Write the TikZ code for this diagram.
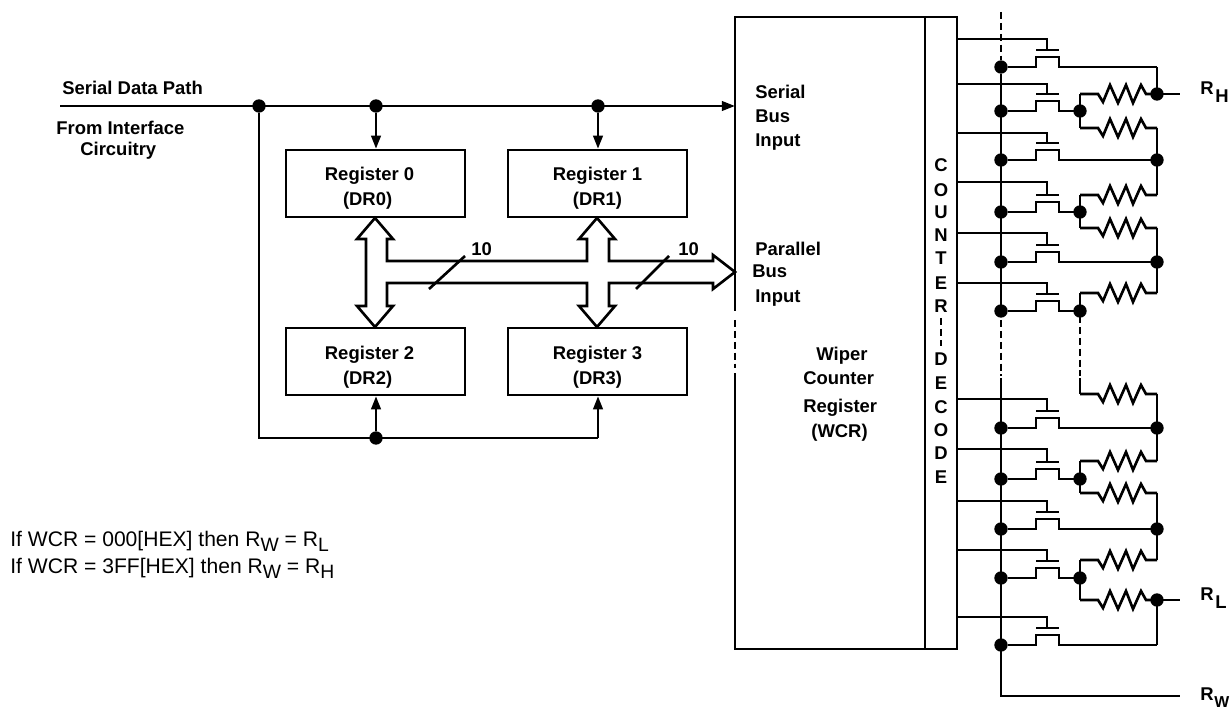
\documentclass[tikz,border=0pt]{standalone}
\usepackage{fontspec}
\setmainfont{Liberation Sans}
\usepackage{tikz}
\usetikzlibrary{arrows.meta}
\newcommand{\lowsub}[1]{\raisebox{-3pt}{\fontsize{11}{12}\selectfont #1}}
\tikzset{
  wire/.style={line width=1.5pt},
  dashwire/.style={line width=1.5pt,dash pattern=on 4pt off 2.2pt},
  regbox/.style={draw,line width=1.5pt,minimum width=102pt,minimum height=38pt,align=center,inner sep=0pt,font=\bfseries\fontsize{10.5}{14.2}\selectfont},
  lbl/.style={inner sep=0pt,anchor=west,font=\bfseries\fontsize{10.5}{12}\selectfont},
  note/.style={inner sep=0pt,anchor=west,font=\fontsize{12}{14}\selectfont},
  dot/.style={circle,fill,inner sep=0pt,minimum size=7.6pt},
  tip/.style={-{Triangle[length=7.5pt,width=5.4pt]}},
}
\begin{document}
\begin{tikzpicture}[x=0.02cm,y=-0.02cm]
       \useasboundingbox(0,0)rectangle(1230,709);
       % registers
       \node[regbox](R0)at(375.5,183.5){\rule{0pt}{13.5pt}Register 0\hspace*{6.8pt}\\(DR0)\hspace*{9pt}};
       \node[regbox](R1)at(597.5,183.5){\rule{0pt}{13.5pt}Register 1\\(DR1)};
       \node[regbox](R2)at(375.5,361.5){\rule{0pt}{14.5pt}Register 2\hspace*{6.8pt}\\(DR2)\hspace*{9pt}};
       \node[regbox](R3)at(597.5,361.5){\rule{0pt}{14.5pt}Register 3\\(DR3)};
       % serial path
       \coordinate(SS)at(60,106);
       \coordinate(SE)at(735,106);
       \node[dot](J0)at(259,106){};
       \node[dot](J1)at(376,106){};
       \node[dot](J2)at(598,106){};
       \node[dot](J3)at(376,438){};
       \coordinate(J4)at(259,438);
       \coordinate(J5)at(598,438);
       \draw[wire,tip](SS)--(SE);
       \draw[wire,tip](J1)--(J1|-R0.north);
       \draw[wire,tip](J2)--(J2|-R1.north);
       \draw[wire](J0)--(J4)--(J5);
       \draw[wire,tip](J3)--(J3|-R2.south);
       \draw[wire,tip](J5)--(J5|-R3.south);
       % parallel bus
       \draw[wire,line join=miter](375,218)--(393,239)--(387,239)--(387,261)--(587,261)--(587,239)--(579,239)
         --(597,218)--(615,239)--(609,239)--(609,261)--(713,261)--(713,255)--(735,272)--(713,289)--(713,283)
         --(609,283)--(609,306)--(615,306)--(597,327)--(579,306)--(587,306)--(587,283)--(387,283)--(387,306)
         --(393,306)--(375,327)--(357,306)--(366,306)--(366,239)--(357,239)--cycle;
       \coordinate(B0)at(429,289);
       \coordinate(B1)at(465,256);
       \coordinate(B2)at(636,289);
       \coordinate(B3)at(669,256);
       \draw[wire](B0)--(B1);
       \draw[wire](B2)--(B3);
       \node[lbl]at(471,249){10};
       \node[lbl]at(678,249){10};
       % counter box
       \coordinate(W0)at(735,17);
       \coordinate(W1)at(957,17);
       \coordinate(W2)at(957,649);
       \coordinate(W3)at(735,649);
       \draw[wire](735,311)--(W0)--(W1)--(W2)--(W3)--(735,373);
       \draw[dashwire](735,320)--(735,368);
       \draw[wire](925,17)--(925,649);
       % text
       \node[lbl]at(62,88){Serial Data Path};
       \node[lbl]at(56,128){From Interface};
       \node[lbl]at(80,151){Circuitry};
       \node[lbl]at(755,92){Serial};
       \node[lbl]at(755,116){Bus};
       \node[lbl]at(755,142){Input};
       \node[lbl]at(755,249){Parallel};
       \node[lbl]at(752,271){Bus};
       \node[lbl]at(755,298){Input};
       \node[lbl]at(816,356){Wiper};
       \node[lbl]at(803,378){Counter};
       \node[lbl]at(803,408){Register};
       \node[lbl]at(811,433){(WCR)};
       \foreach \t/\y in {C/165,O/190,U/212,N/235,T/258,E/283,R/306,D/359,E/383,C/407,O/430,D/453,E/477}
         \node[lbl,anchor=center]at(941,\y){\t};
       \draw[dashwire](941,318)--(941,346);
       \node[note]at(10,541){If WCR = 000[HEX] then R\lowsub{W} = R\lowsub{L}};
       \node[note]at(10,568){If WCR = 3FF[HEX] then R\lowsub{W} = R\lowsub{H}};
       % transistors: gate y / source y / drain x
       \foreach \n/\g/\s/\d in {1/39/67/1157,2/84/111/1080,3/133/160/1157,4/182/212/1080,5/233/262/1157,
                                6/283/311/1080,7/399/428/1157,8/449/479/1080,9/501/529/1157,10/550/578/1080,11/617/645/1157}{
         \node[dot](S\n)at(1001,\s){};
         \coordinate(D\n)at(\d,\s);
         \draw[wire](957,\g)-|(1047,\s-17);
         \draw[wire](1036,\s-17)--(1059,\s-17);
         \draw[wire](S\n)--(1036,\s)--(1036,\s-10)--(1059,\s-10)--(1059,\s)--(D\n);
       }
       % resistors
       \foreach \n/\y in {1/94,2/128,3/195,4/228,5/293,6/394,7/461,8/493,9/560,10/600}{
         \draw[wire,line join=miter](1080,\y)--(1098,\y)--(1103,\y+8)--(1110,\y-9)--(1118,\y+9)--(1126,\y-9)--(1133,\y+9)--(1141,\y-9)--(1146,\y)--(1157,\y);
       }
       \foreach \n/\y in {2/111,4/212,6/311,8/479,10/578}
         \node[dot]at(1080,\y){};
       \foreach \n/\y in {1/94,3/160,5/262,7/428,9/529,11/600}
         \node[dot]at(1157,\y){};
       \draw[wire](1080,94)--(1080,128);
       \draw[wire](1080,195)--(1080,228);
       \draw[wire](1080,293)--(1080,311);
       \draw[wire](1080,378)--(1080,394);
       \draw[dashwire](1080,316)--(1080,376);
       \draw[wire](1080,461)--(1080,493);
       \draw[wire](1080,560)--(1080,600);
       \draw[wire](1157,67)--(1157,94);
       \draw[wire](1157,128)--(1157,195);
       \draw[wire](1157,228)--(1157,293);
       \draw[wire](1157,394)--(1157,461);
       \draw[wire](1157,493)--(1157,560);
       \draw[wire](1157,600)--(1157,645);
       % wiper bus
       \draw[dashwire](1001,12)--(1001,60);
       \draw[wire](S1)--(1001,316);
       \draw[dashwire](1001,320)--(1001,376);
       \coordinate(RW)at(1180,696);
       \draw[wire](1001,378)--(1001,696)--(RW);
       \draw[wire](1157,94)--(1180,94);
       \draw[wire](1157,600)--(1180,600);
       \node[lbl]at(1200,88){R};
       \node[lbl]at(1215,96){H};
       \node[lbl]at(1200,594){R};
       \node[lbl]at(1215,602){L};
       \node[lbl]at(1200,694){R};
       \node[lbl,font=\bfseries\fontsize{9}{10}\selectfont]at(1214,702){W};
      \end{tikzpicture}
\end{document}
